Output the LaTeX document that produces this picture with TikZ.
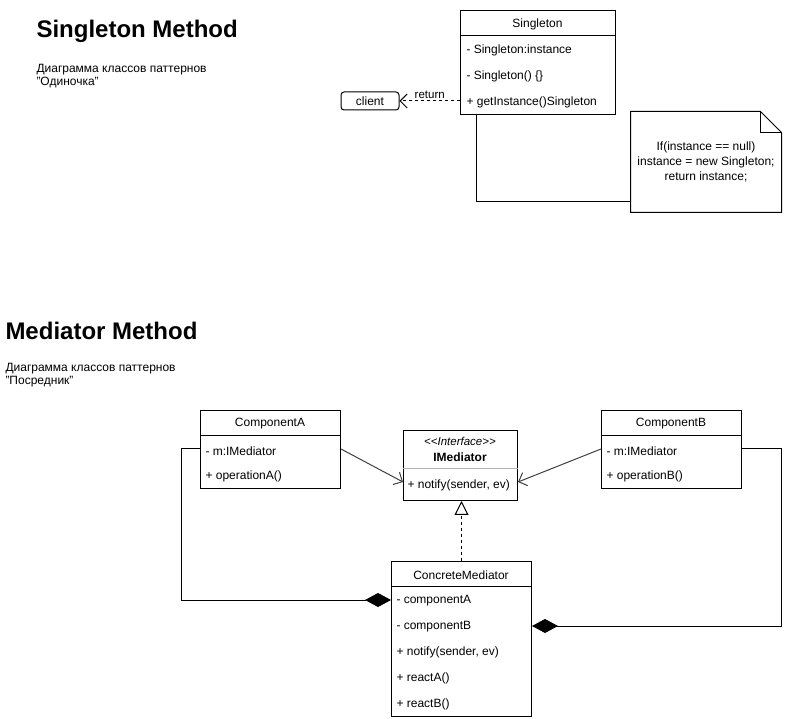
\documentclass[tikz,border=0pt]{standalone}
\usepackage{fontspec}
\setmainfont{Liberation Sans}
\usetikzlibrary{arrows.meta,positioning}

\newcommand{\classsep}[3][black]
{\draw [#1] (#2.west |- 0,#3) -- (#2.east |- 0,#3);}

\begin{document}
\begin{tikzpicture}[x=1pt,y=-1pt,line width=1pt,
	txt/.style={font=\fontsize{12}{14}\selectfont},
	classbox/.style={draw,anchor=north west,inner sep=0},
	member/.style={txt,anchor=west,inner sep=0},
	head/.style={txt,inner sep=0},
	heading/.style={anchor=west,inner sep=0,font=\bfseries\fontsize{24}{28}\selectfont},
	caption/.style={anchor=north west,inner sep=0,align=left,font=\fontsize{12}{12.5}\selectfont},
	openarr/.style={-{Straight Barb[length=7pt,width=14pt]}},
	comp/.style={-{Diamond[length=26pt,width=14pt]}},
	realize/.style={dash pattern=on 3pt off 3pt,-{Triangle[open,length=14pt,width=14pt,fill=white]}}]

\useasboundingbox (0,0) rectangle (807,719);

% Singleton
\node[heading] (singleTitle) at (36,31) {Singleton Method};
\node[caption] (singleCap) at (36,64) {Диаграмма классов паттернов\\"Одиночка"};

\node[classbox,minimum width=155pt,minimum height=104pt] (single) at (460,10) {};
\node[head] (singleName) at (537.5,24) {Singleton};
\classsep{single}{36}
\node[member] (sInst) at (466,50) {- Singleton:instance};
\node[member] (sCtor) at (466,76) {- Singleton() \{\}};
\node[member] (sGet) at (466,102) {+ getInstance()Singleton};

\node[draw,txt,rounded corners=3pt,minimum width=58pt,minimum height=18pt,inner sep=0] (client) at (370,101) {client};
\draw [dash pattern=on 3pt off 3pt,openarr] (single.west |- client) -- node[above=2pt,inner sep=0,font=\fontsize{11.5}{13}\selectfont] {return} (client.east);

\node[txt,align=center,font=\fontsize{12}{15}\selectfont,minimum width=150pt,minimum height=100pt,inner sep=0] (note) at (706,162) {If(instance == null)\\instance = new Singleton;\\return instance;};
\draw (note.north west) -- ([xshift=-21pt]note.north east) -- ([yshift=-21pt]note.north east) -- (note.south east) -- (note.south west) -- cycle;
\draw ([xshift=-21pt]note.north east) -- ([xshift=-21pt,yshift=-21pt]note.north east) -- ([yshift=-21pt]note.north east);
\draw ([xshift=16pt]single.south west) |- ([yshift=11pt]note.south west);

% Mediator
\node[heading] (medTitle) at (5,331) {Mediator Method};
\node[caption] (medCap) at (5,363) {Диаграмма классов паттернов\\"Посредник"};

\node[classbox,minimum width=140pt,minimum height=78pt] (compA) at (200,410) {};
\node[head] (compAName) at (270,424) {ComponentA};
\classsep{compA}{436}
\node[member] (compAm) at (205,451) {- m:IMediator};
\node[member] (compAop) at (205,476) {+ operationA()};

\node[classbox,minimum width=140pt,minimum height=78pt] (compB) at (601,410) {};
\node[head] (compBName) at (671,424) {ComponentB};
\classsep{compB}{436}
\node[member] (compBm) at (606,451) {- m:IMediator};
\node[member] (compBop) at (606,476) {+ operationB()};

\node[classbox,minimum width=114pt,minimum height=70pt] (imed) at (403,430) {};
\node[head,font=\itshape\fontsize{11.5}{13}\selectfont] (imedStereo) at (460,441) {<{}<Interface>{}>};
\node[head,font=\bfseries\fontsize{12}{14}\selectfont] (imedName) at (460,457) {IMediator};
\classsep[gray!60]{imed}{469}
\node[member] (imedNotify) at (407,485) {+ notify(sender, ev)};

\node[classbox,minimum width=140pt,minimum height=155pt] (concrete) at (391,561) {};
\node[head] (concreteName) at (461,575) {ConcreteMediator};
\classsep{concrete}{587}
\node[member] (cmA) at (396,601) {- componentA};
\node[member] (cmB) at (396,627) {- componentB};
\node[member] (cmNotify) at (396,652) {+ notify(sender, ev)};
\node[member] (cmReactA) at (396,678) {+ reactA()};
\node[member] (cmReactB) at (396,704) {+ reactB()};

\draw [openarr,black!75] (compA.east |- 0,449) -- (imed.west |- 0,482);
\draw [openarr,black!75] (compB.west |- 0,449) -- (imed.east |- 0,482);
\draw [realize] (concrete.north) -- (concrete.north |- imed.south);
\draw [comp] (compA.west |- 0,449) -- ++(-19,0) |- (concrete.west |- 0,600);
\draw [comp] (compB.east |- 0,449) -- ++(39,0) |- (concrete.east |- 0,626);

\end{tikzpicture}
\end{document}
